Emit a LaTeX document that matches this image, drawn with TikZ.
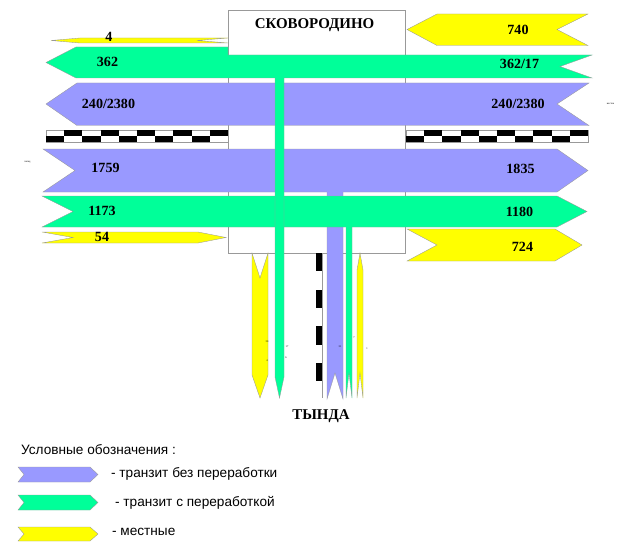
\documentclass[tikz,border=0pt]{standalone}
\usepackage{fontspec}
\setmainfont{Liberation Serif}
\newfontfamily\legendfont{Liberation Sans}
\usetikzlibrary{positioning}

\definecolor{nopassc}{RGB}{153,153,255}
\definecolor{workc}{RGB}{0,255,153}
\definecolor{localc}{RGB}{255,255,0}

\begin{document}
\begin{tikzpicture}[
  x=0.4mm, y=-0.4mm,
  flow/.style={draw=black!40, line width=0.4pt},
  nopass/.style={flow, fill=nopassc},
  work/.style={flow, fill=workc},
  local/.style={flow, fill=localc},
  num/.style={font=\fontsize{16}{18}\selectfont\bfseries, inner sep=0pt},
  town/.style={font=\fontsize{17}{19}\selectfont\bfseries, inner sep=0pt},
  tiny/.style={font=\fontsize{3}{3}\selectfont, inner sep=0pt},
  legend/.style={font=\legendfont\fontsize{15.5}{18}\selectfont,
    anchor=west, inner sep=0pt},
  railline/.style={draw=black!40, line width=0.4pt},
]

\useasboundingbox (0,0) rectangle (642,542);

% =========================== station area =================================
\draw[flow, fill=white] (228,10) rectangle (405,253);
\node[town] (skov) at (314.5,25) {СКОВОРОДИНО};

% =========================== rails ========================================
\foreach \xs in {46,406}{
  \draw[railline] (\xs,130) rectangle ({\xs+182},142);
  \foreach \i in {0,2,...,8}{
    \fill ({\xs+\i*18.2},136) rectangle ({\xs+(\i+1)*18.2},142);
    \fill ({\xs+(\i+1)*18.2},130) rectangle ({\xs+(\i+2)*18.2},136);
  }
}
\foreach \j in {0,...,3}{
  \fill (316,{253+\j*36.7}) rectangle (322,{271.3+\j*36.7});
}
\draw[railline] (322,253) -- (322,398);

% =========================== westward (top) ===============================
\draw[local] (51,40.5) -- (80,38) -- (228,38) -- (197,40.5) -- (228,43)
  -- (80,43) -- cycle;
\node[num] (n4) at (109,37) {4};

\draw[local] (407,29.5) -- (437,14) -- (588,14) -- (557,29.5) -- (588,45.5)
  -- (437,45.5) -- cycle;
\node[num] (n740) at (518,29.5) {740};

\draw[work] (46,62.5) -- (76,47) -- (228,47) -- (228,55) -- (592,55)
  -- (560,66.5) -- (592,78) -- (76,78) -- cycle;
\node[num] (n362) at (107.5,62) {362};
\node[num] (n362r) at (519.5,64) {362/17};

\draw[nopass] (46,104) -- (77,83) -- (589,83) -- (557,104) -- (589,125.5)
  -- (77,125.5) -- cycle;
\node[num] (n240) at (108.5,104) {240/2380};
\node[num] (n240r) at (518,104) {240/2380};

% =========================== eastward (bottom) ============================
\draw[nopass] (43,149) -- (557,149) -- (588,170.5) -- (557,192) -- (43,192)
  -- (75,170.5) -- cycle;
\node[num] (n1759) at (105.5,168) {1759};
\node[num] (n1835) at (520.5,169) {1835};

% branch to Tynda
\fill[nopassc] (327,190) -- (327,399) -- (335,373) -- (343,399) -- (343,190)
  -- cycle;
\draw[flow] (327,192) -- (327,399) -- (335,373) -- (343,399) -- (343,192);

\draw[work] (42,196) -- (557,196) -- (587,211.5) -- (557,227) -- (42,227)
  -- (73,211.5) -- cycle;
\node[num] (n1173) at (102,211) {1173};
\node[num] (n1180) at (519.5,212) {1180};

\draw[local] (42,232) -- (198,232) -- (226,237.5) -- (198,243) -- (42,243)
  -- (73,237.5) -- cycle;
\node[num] (n54) at (102,236.5) {54};

\draw[local] (407,229) -- (555,229) -- (582,245) -- (555,261) -- (407,261)
  -- (437,245) -- cycle;
\node[num] (n724) at (522.5,247) {724};

% =========================== Tynda line ===================================
\draw[local] (252,253) -- (260,278) -- (268,253) -- (268,375) -- (260,398)
  -- (252,375) -- cycle;

\fill[workc] (275,77) -- (275,377) -- (279.5,398) -- (284,377) -- (284,77)
  -- cycle;
\draw[flow] (275,78) -- (275,377) -- (279.5,398) -- (284,377) -- (284,78);

\fill[workc] (346,226) -- (346,398) -- (349,373) -- (352,398) -- (352,226)
  -- cycle;
\draw[flow] (346,227) -- (346,398) -- (349,373) -- (352,398) -- (352,227);

\draw[local] (360,253) -- (363,270) -- (363,398) -- (360,373) -- (357,398)
  -- (357,270) -- cycle;

\node[tiny] (t1) at (267,342) {30};
\node[tiny] (t2) at (267,361) {4};
\node[tiny] (t3) at (287,347) {17};
\node[tiny] (t4) at (286,358) {6};
\node[tiny] (t5) at (340,347) {31};
\node[tiny] (t6) at (354,338) {7};
\node[tiny] (t7) at (367,349) {1};

\node[tiny] (west) at (27.5,162) {запад};
\node[tiny] (east) at (610.5,104) {восток};

\node[town] (tynda) at (321,416) {ТЫНДА};

% =========================== legend =======================================
\node[legend] (lhead) at (21,450) {Условные обозначения :};

\draw[nopass] (18,467) -- (90,467) -- (98,474.5) -- (90,482) -- (18,482)
  -- (24,474.5) -- cycle;
\node[legend] (lnopass) at (111,474) {- транзит без переработки};

\draw[work] (18,495) -- (90,495) -- (98,502.5) -- (90,510) -- (18,510)
  -- (24,502.5) -- cycle;
\node[legend] (lwork) at (115,503) {- транзит с переработкой};

\draw[local] (18,527) -- (90,527) -- (98,534) -- (90,541) -- (18,541)
  -- (24,534) -- cycle;
\node[legend] (llocal) at (112,532) {- местные};

\end{tikzpicture}
\end{document}
